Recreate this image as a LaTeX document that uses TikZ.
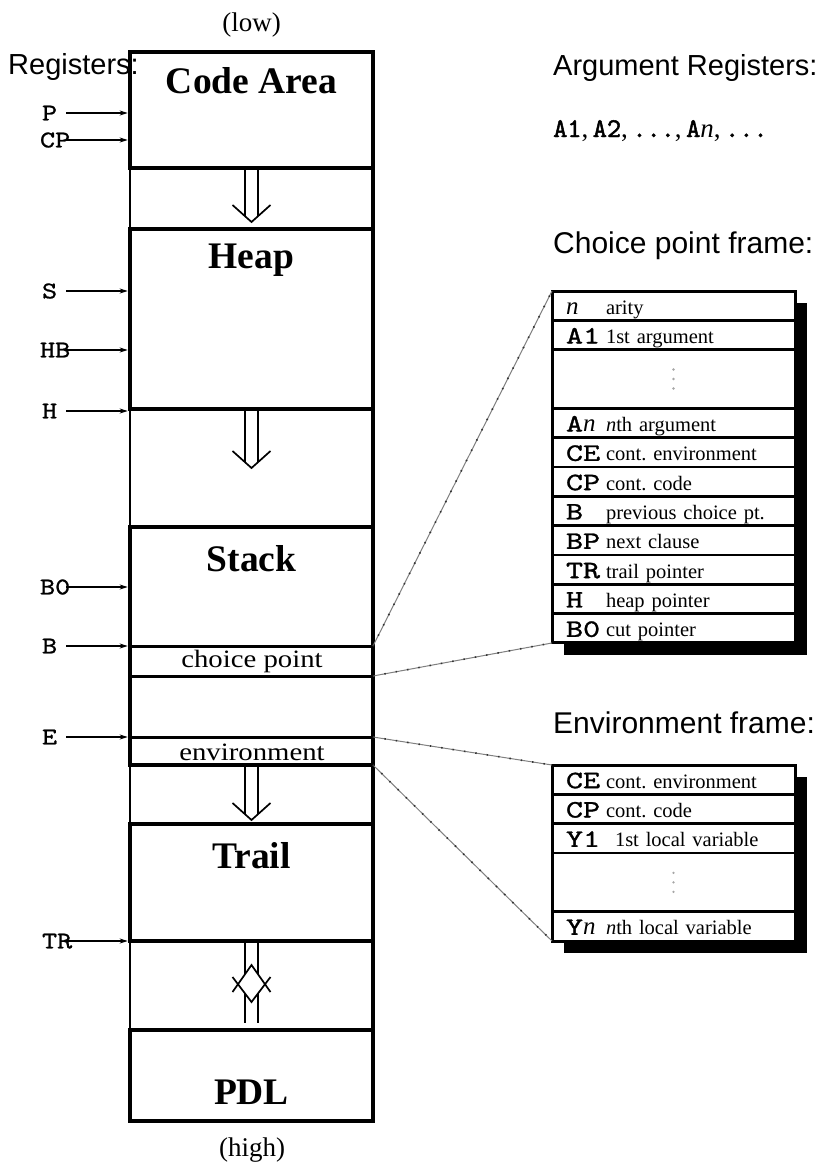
\documentclass[tikz,border=0pt]{standalone}
\usepackage{fontspec}
\setmainfont{Liberation Serif}
\newfontfamily\labelsans{Liberation Sans}
\newfontfamily\widerm[FakeStretch=1.15]{Liberation Serif}
\newfontfamily\regfont[FakeStretch=1.2,FakeBold=1]{lmmono10-regular.otf}
\newfontfamily\slotfont[FakeStretch=1.3,FakeBold=1.2]{lmmono10-regular.otf}
\newfontfamily\argfont[FakeBold=1.8]{lmmono10-regular.otf}
\usetikzlibrary{arrows.meta,calc,backgrounds}

% italic n used inside register names
\newcommand\itn{{\rmfamily\itshape n}}
% fixed-width register name at the start of a frame slot
\newcommand\slotlbl[1]{\makebox[40pt][l]{\slotfont\fontsize{25}{25}\selectfont #1}}

\begin{document}
\begin{tikzpicture}[x=1pt,y=-1pt,
  area/.style={draw, line width=4.5pt, minimum width=243pt, inner sep=0pt, outer sep=0pt, anchor=north west},
  areatitle/.style={font=\bfseries\fontsize{37.5}{40}\selectfont, inner sep=0pt, anchor=base},
  gapside/.style={line width=1.8pt},
  gapedge/.style={line width=4.5pt},
  slotline/.style={line width=3pt},
  slotname/.style={font=\widerm\fontsize{25}{28}\selectfont, inner sep=0pt, anchor=base},
  endnote/.style={font=\fontsize{27}{30}\selectfont, inner sep=0pt, anchor=base},
  sansnote/.style={font=\labelsans\fontsize{30}{32}\selectfont, inner sep=0pt, anchor=base west},
  reglabel/.style={font=\regfont\fontsize{24}{24}\selectfont, inner sep=0pt, outer sep=0pt,
                   text height=14.7pt, text depth=0pt, anchor=west},
  regarrow/.style={line width=1.3pt, -{Stealth[length=8pt,width=5pt]}, shorten >=2.3pt},
  heavyreg/.style={line width=2.4pt},
  flowline/.style={line width=1.7pt},
  slot/.style={draw, fill=white, line width=2.5pt, minimum width=243pt, minimum height=29.33pt,
               inner sep=0pt, outer sep=0pt, text width=243pt, align=left,
               text height=19pt, text depth=2pt,
               font=\fontsize{20.5}{22}\selectfont, anchor=north},
  framebox/.style={line width=3pt},
  zoomline/.style={draw=black!50, line width=1pt,
                   postaction={draw=black!80, line width=1.6pt, dash pattern=on 1.5pt off 10pt}},
  pics/downflow/.style={code={
    \draw[flowline] (-6.75,0) -- (-6.75,#1-6) (6.75,0) -- (6.75,#1-6);
    \draw[flowline] (-19,#1-17) -- (0,#1) -- (19,#1-17);
  }},
  pics/twoway/.style={code={
    \draw[flowline] (-6.75,0) -- (-6.75,33) (6.75,0) -- (6.75,33);
    \draw[flowline] (-6.75,52) -- (-6.75,82) (6.75,52) -- (6.75,82);
    \draw[flowline] (-19,36) -- (0,61) -- (19,36);
    \draw[flowline] (-19,51) -- (0,24) -- (19,51);
  }}
]
\useasboundingbox (0,0) rectangle (820,1168);

% ---------------- memory areas ----------------
\node[area, minimum height=116pt] (code)  at (130,52)   {};
\node[area, minimum height=180pt] (heap)  at (130,229)  {};
\node[area, minimum height=238pt] (stack) at (130,527)  {};
\node[area, minimum height=117pt] (trail) at (130,824)  {};
\node[area, minimum height=91pt]  (pdl)   at (130,1030) {};

\foreach \a/\b in {code/heap, heap/stack, stack/trail, trail/pdl}{
  \draw[gapside] (\a.south west) -- (\b.north west);
  \draw[gapedge] (\a.south east) -- (\b.north east);
}

\node[areatitle] (codeT)  at (251.5,93)   {Code Area};
\node[areatitle] (heapT)  at (251.5,268)  {Heap};
\node[areatitle] (stackT) at (251.5,571)  {Stack};
\node[areatitle] (trailT) at (251.5,868)  {Trail};
\node[areatitle] (pdlT)   at (251.5,1104) {PDL};

\node[endnote] (low)  at (251.5,31)   {(low)};
\node[endnote] (high) at (252,1156)   {(high)};

% frames inside the stack
\coordinate (cpTop)  at (130,646);
\coordinate (cpBot)  at (130,676);
\coordinate (envTop) at (130,737);
\draw[slotline] (cpTop)  -- (cpTop -| stack.east);
\draw[slotline] (cpBot)  -- (cpBot -| stack.east);
\draw[slotline] (envTop) -- (envTop -| stack.east);
\node[slotname] (cpName)  at (252,667) {choice point};
\node[slotname] (envName) at (252,760) {environment};

% growth directions
\pic at (code.south)  {downflow=54};
\pic at (heap.south)  {downflow=59};
\pic at (stack.south) {downflow=55};
\pic at (trail.south) {twoway};

% ---------------- registers ----------------
\node[sansnote, font=\labelsans\fontsize{29}{31}\selectfont] (regs) at (8,74) {Registers:};
\coordinate (regstart) at (66,0);
\node[reglabel] (P)  at (42,113) {P};
\node[reglabel] (CP) at (40,140) {CP};
\node[reglabel] (S)  at (42,291) {S};
\node[reglabel] (HB) at (40,350) {HB};
\node[reglabel] (H)  at (42,411) {H};
\node[reglabel] (B0) at (40,587) {B0};
\node[reglabel] (B)  at (42,646) {B};
\node[reglabel] (E)  at (42,737) {E};
\node[reglabel] (TR) at (42,941) {TR};

\draw[regarrow, heavyreg] (P  -| regstart) -- (P  -| code.west);
\draw[regarrow]           (CP -| regstart) -- (CP -| code.west);
\draw[regarrow, heavyreg] (S  -| regstart) -- (S  -| heap.west);
\draw[regarrow]           (HB -| regstart) -- (HB -| heap.west);
\draw[regarrow, heavyreg] (H  -| regstart) -- (H  -| heap.west);
\draw[regarrow]           (B0 -| regstart) -- (B0 -| stack.west);
\draw[regarrow, heavyreg] (B  -| regstart) -- (B  -| stack.west);
\draw[regarrow, heavyreg] (E  -| regstart) -- (E  -| stack.west);
\draw[regarrow]           (TR -| regstart) -- (TR -| trail.west);

% ---------------- argument registers ----------------
\node[sansnote, font=\labelsans\fontsize{29}{31}\selectfont] (argregs) at (553,75) {Argument Registers:};
\node[inner sep=0pt, anchor=base west] (arglist) at (553,137)
  {\argfont\fontsize{27}{27}\selectfont A1{\rmfamily,}\,A2{\rmfamily,}\,...{\rmfamily,}\,A\itn{\rmfamily,}\,...};

% ---------------- choice point frame ----------------
\node[sansnote] (cpframe) at (553,253) {Choice point frame:};
\node[slot, anchor=north west] (c1) at (552,291) {\hspace*{14pt}\slotlbl{\itn}arity};
\node[slot] (c2)  at (c1.south)  {\hspace*{14pt}\slotlbl{A1}1st argument};
\node[slot, minimum height=58.67pt] (c3) at (c2.south) {};
\node[slot] (c4)  at (c3.south)  {\hspace*{14pt}\slotlbl{A\itn}\textit{n}th argument};
\node[slot] (c5)  at (c4.south)  {\hspace*{14pt}\slotlbl{CE}cont.\ environment};
\node[slot] (c6)  at (c5.south)  {\hspace*{14pt}\slotlbl{CP}cont.\ code};
\node[slot] (c7)  at (c6.south)  {\hspace*{14pt}\slotlbl{B}previous choice pt.};
\node[slot] (c8)  at (c7.south)  {\hspace*{14pt}\slotlbl{BP}next clause};
\node[slot] (c9)  at (c8.south)  {\hspace*{14pt}\slotlbl{TR}trail pointer};
\node[slot] (c10) at (c9.south)  {\hspace*{14pt}\slotlbl{H}heap pointer};
\node[slot] (c11) at (c10.south) {\hspace*{14pt}\slotlbl{B0}cut pointer};
\foreach \d in {-9.5,0,9.5} \fill[gray!70] ($(c3.center)+(0,\d)$) circle (1.3pt);
\draw[framebox] (c1.north west) rectangle (c11.south east);

% ---------------- environment frame ----------------
\node[sansnote] (envframe) at (553,733) {Environment frame:};
\node[slot, anchor=north west] (e1) at (552,765) {\hspace*{14pt}\slotlbl{CE}cont.\ environment};
\node[slot] (e2) at (e1.south) {\hspace*{14pt}\slotlbl{CP}cont.\ code};
\node[slot] (e3) at (e2.south) {\hspace*{14pt}\slotlbl{Y1}\hspace*{9pt}1st local variable};
\node[slot, minimum height=58.67pt] (e4) at (e3.south) {};
\node[slot] (e5) at (e4.south) {\hspace*{14pt}\slotlbl{Y\itn}\textit{n}th local variable};
\foreach \d in {-9.5,0,9.5} \fill[gray!70] ($(e4.center)+(0,\d)$) circle (1.3pt);
\draw[framebox] (e1.north west) rectangle (e5.south east);

% drop shadows and page ground
\begin{scope}[on background layer]
  \fill[white] (0,0) rectangle (820,1168);
  \fill ($(c1.north west)+(12,12)$) rectangle ($(c11.south east)+(12,12)$);
  \fill ($(e1.north west)+(12,12)$) rectangle ($(e5.south east)+(12,12)$);
\end{scope}

% ---------------- zoom lines ----------------
\draw[zoomline] (cpTop -| stack.east)  -- (c1.north west);
\draw[zoomline] (cpBot -| stack.east)  -- (c11.south west);
\draw[zoomline] (envTop -| stack.east) -- (e1.north west);
\draw[zoomline] (stack.south east)     -- (e5.south west);
\end{tikzpicture}
\end{document}
